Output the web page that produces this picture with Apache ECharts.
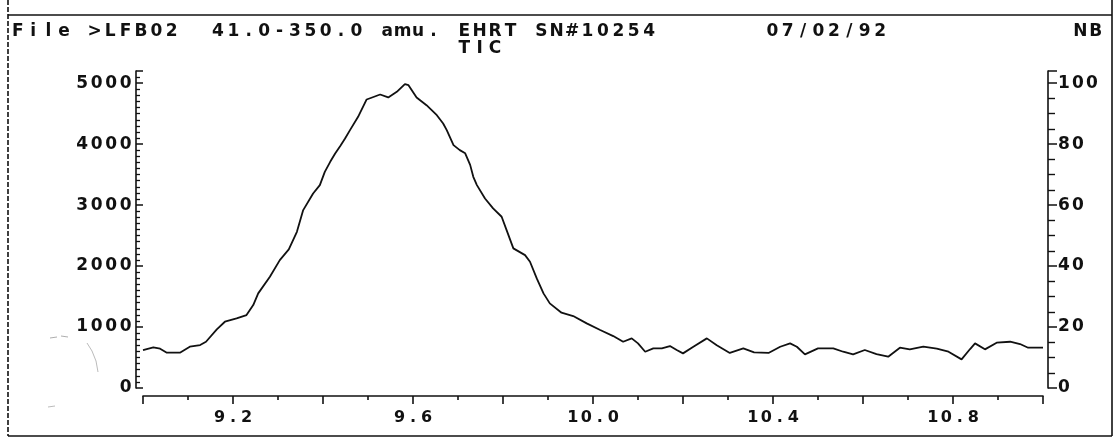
<!DOCTYPE html>
<html>
<head>
<meta charset="utf-8">
<script src="https://cdn.jsdelivr.net/npm/echarts@6/dist/echarts.min.js"></script>
<style>
  html, body { margin: 0; padding: 0; background: #fff; }
  #chart { width: 1118px; height: 443px; }
</style>
</head>
<body>
<div id="chart"></div>
<script>
// Total ion current trace, retention time (min) vs. counts
const scanTimes = [
  9.000, 9.023, 9.038, 9.053, 9.082, 9.104, 9.127, 9.140, 9.164, 9.182,
  9.208, 9.230, 9.245, 9.256, 9.282, 9.304, 9.324, 9.342, 9.356, 9.378,
  9.393, 9.404, 9.416, 9.427, 9.438, 9.449, 9.460, 9.478, 9.497, 9.527,
  9.545, 9.564, 9.582, 9.590, 9.608, 9.630, 9.653, 9.667, 9.675, 9.690,
  9.704, 9.716, 9.727, 9.734, 9.742, 9.760, 9.778, 9.797, 9.808, 9.823,
  9.849, 9.860, 9.875, 9.890, 9.904, 9.930, 9.956, 9.986, 10.016, 10.045,
  10.067, 10.086, 10.100, 10.116, 10.134, 10.153, 10.171, 10.186, 10.200, 10.223,
  10.253, 10.275, 10.304, 10.334, 10.358, 10.390, 10.416, 10.438, 10.453, 10.471,
  10.500, 10.534, 10.556, 10.578, 10.604, 10.630, 10.656, 10.682, 10.704, 10.734,
  10.764, 10.790, 10.819, 10.838, 10.849, 10.871, 10.897, 10.927, 10.949, 10.967,
  11.000
];
const ticCounts = [
  623, 667, 645, 579, 579, 677, 705, 759, 962, 1087,
  1142, 1197, 1361, 1552, 1825, 2098, 2273, 2562, 2918, 3191,
  3328, 3546, 3710, 3847, 3967, 4093, 4230, 4448, 4733, 4815,
  4766, 4858, 4984, 4967, 4766, 4639, 4475, 4339, 4230, 3984,
  3902, 3850, 3660, 3464, 3328, 3109, 2946, 2809, 2590, 2290,
  2180, 2071, 1798, 1552, 1388, 1235, 1180, 1060, 951, 852,
  759, 814, 732, 595, 650, 650, 688, 623, 568, 677,
  814, 700, 575, 650, 585, 575, 677, 732, 677, 552,
  650, 650, 595, 552, 623, 557, 513, 661, 634, 677,
  645, 595, 470, 639, 732, 634, 743, 759, 721, 661,
  661
];

// Tick labels
const timeLabels = [9.2, 9.6, 10.0, 10.4, 10.8];
const countLabels = [0, 1000, 2000, 3000, 4000, 5000];
const percentLabels = [0, 20, 40, 60, 80, 100];

// Header text
const headerLine1 = ['File', '>LFB02', '41.0-350.0', 'amu.', 'EHRT', 'SN#10254', '07/02/92', 'NB'];
const headerCols1 = [0, 5, 13, 24, 29, 34, 49, 69];
const headerLine2 = ['TIC'];
const headerCols2 = [29];

const INK = '#111';
const FACE = '"DejaVu Sans", "Liberation Sans", sans-serif';

// Printer-style fixed character cells
function cells(str, key) {
  return String(str).split('').map(ch => '{' + key + '|' + ch + '}').join('');
}
function cellStyle(w, size) {
  return { width: w, align: 'center', fontSize: size, fontFamily: FACE, fontWeight: 'bold', color: INK };
}
function near(list, v) {
  return list.some(t => Math.abs(t - v) < 1e-6);
}

const series = scanTimes.map((t, i) => [t, ticCounts[i]]);

const PITCH = 15.4;
function headerText(tok, col, y) {
  return {
    type: 'text', x: 10 + col * PITCH, y: y,
    style: {
      text: cells(tok, 'h'),
      rich: { h: { width: PITCH, align: 'center', fontSize: 17, fontFamily: FACE, fontWeight: 'bold', fill: INK } },
      verticalAlign: 'middle', fill: INK
    }
  };
}
const headerEls = [];
headerLine1.forEach((tok, i) => headerEls.push(headerText(tok, headerCols1[i], 32)));
headerLine2.forEach((tok, i) => headerEls.push(headerText(tok, headerCols2[i], 49)));

// Page frame
const frame = [
  { type: 'line', shape: { x1: 8, y1: 15, x2: 1112, y2: 15 }, style: { stroke: INK, lineWidth: 1.6 } },
  { type: 'line', shape: { x1: 1112, y1: 0, x2: 1112, y2: 436 }, style: { stroke: INK, lineWidth: 1.6 } },
  { type: 'line', shape: { x1: 8, y1: 436, x2: 1112, y2: 436 }, style: { stroke: INK, lineWidth: 1.6 } },
  { type: 'line', shape: { x1: 8, y1: 0, x2: 8, y2: 436 }, style: { stroke: INK, lineWidth: 1.6, lineDash: [5, 2] } },
  // pencil marks in the margin
  { type: 'polyline', shape: { points: [[50, 338], [57, 337]] }, style: { stroke: '#999', lineWidth: 0.8 } },
  { type: 'polyline', shape: { points: [[61, 336], [68, 337]] }, style: { stroke: '#999', lineWidth: 0.8 } },
  { type: 'polyline', shape: { points: [[87, 343], [92, 351], [96, 361], [98, 372]] }, style: { stroke: '#aaa', lineWidth: 0.8 } },
  { type: 'polyline', shape: { points: [[48, 407], [55, 406]] }, style: { stroke: '#aaa', lineWidth: 0.8 } }
];

const chart = echarts.init(document.getElementById('chart'), null, { renderer: 'canvas' });
chart.setOption({
  animation: false,
  backgroundColor: '#fff',
  grid: { left: 143, right: 75, top: 71, bottom: 55, containLabel: false },
  xAxis: {
    type: 'value', min: 9.0, max: 11.0, interval: 0.2,
    position: 'bottom', offset: 8,
    axisLine: { onZero: false, lineStyle: { color: INK, width: 1.6 } },
    axisTick: { show: true, length: 8, lineStyle: { color: INK, width: 1.6 } },
    minorTick: { show: true, splitNumber: 2, length: 4, lineStyle: { color: INK, width: 1.6 } },
    splitLine: { show: false },
    axisLabel: {
      margin: 14,
      formatter: v => near(timeLabels, v) ? cells(v.toFixed(1), 'c') : '',
      rich: { c: cellStyle(13.5, 16) }
    }
  },
  yAxis: [
    {
      type: 'value', min: 0, max: 5200, interval: 1000,
      position: 'left', offset: 7,
      axisLine: { show: true, lineStyle: { color: INK, width: 1.6 } },
      axisTick: { show: true, inside: true, length: 7, lineStyle: { color: INK, width: 1.5 } },
      minorTick: { show: true, splitNumber: 10, length: 4, lineStyle: { color: INK, width: 1.3 } },
      splitLine: { show: false },
      axisLabel: {
        margin: 3,
        formatter: v => near(countLabels, v) ? cells(String(v), 'c') : '',
        rich: { c: cellStyle(14.5, 17) }
      }
    },
    {
      type: 'value', min: 0, max: 104, interval: 20,
      position: 'right', offset: 5,
      axisLine: { show: true, lineStyle: { color: INK, width: 1.6 } },
      axisTick: { show: true, length: 9, lineStyle: { color: INK, width: 1.5 } },
      minorTick: { show: true, splitNumber: 4, length: 7, lineStyle: { color: INK, width: 1.4 } },
      splitLine: { show: false },
      axisLabel: {
        margin: 9,
        formatter: v => near(percentLabels, v) ? cells(String(v), 'c') : '',
        rich: { c: cellStyle(14, 17) }
      }
    }
  ],
  series: [{
    type: 'line',
    data: series,
    yAxisIndex: 0,
    showSymbol: false,
    lineStyle: { color: INK, width: 1.8 },
    z: 3
  }],
  graphic: headerEls.concat(frame)
});
</script>
</body>
</html>
